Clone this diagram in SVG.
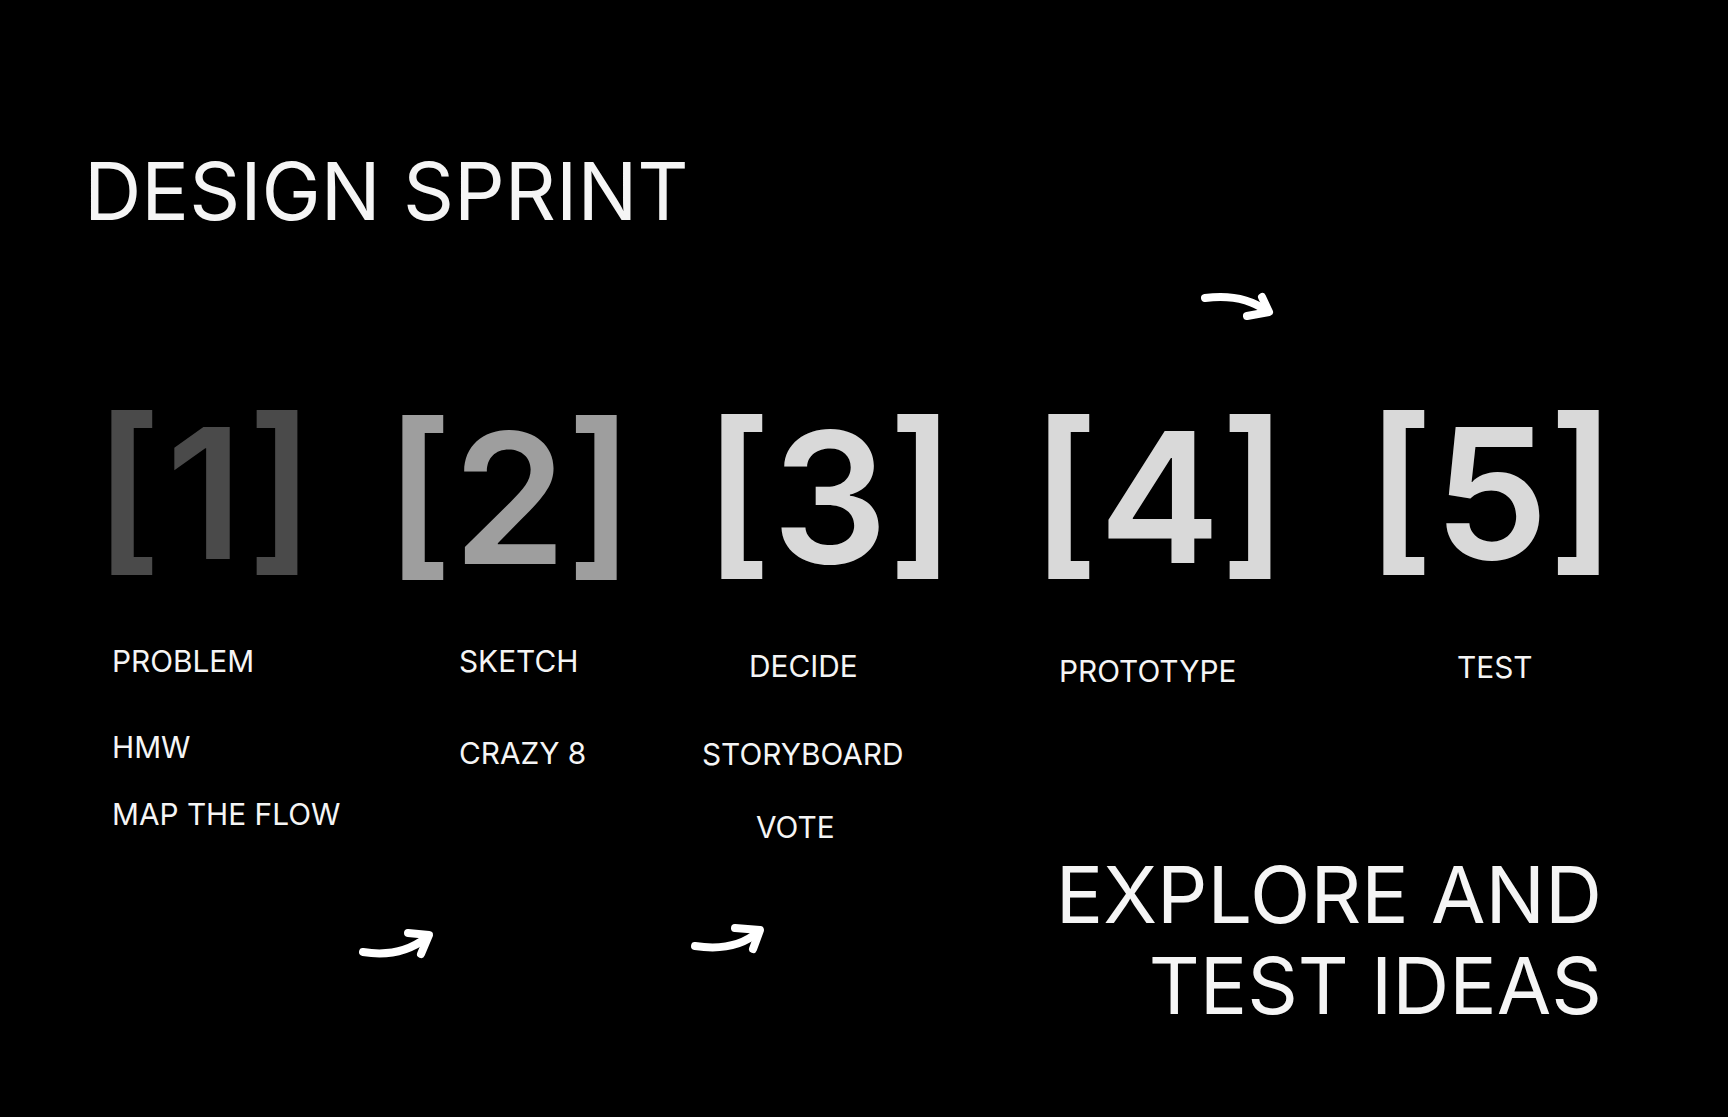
<svg xmlns="http://www.w3.org/2000/svg" width="1728" height="1117" viewBox="0 0 1728 1117">
<style>
.t{font-family:Inter,"Noto Sans","Liberation Sans",sans-serif;fill:#f5f5f5}
.big{font-family:Inter,"Noto Sans","Liberation Sans",sans-serif;font-size:182px;font-weight:600}
.lbl{font-size:29.8px}
.arr{fill:none;stroke:#ffffff;stroke-width:8;stroke-linecap:round;stroke-linejoin:round}
</style>
<rect width="1728" height="1117" fill="#000000"/>
<g id="title"><text class="t" x="84" y="220" font-size="79.5">DESIGN SPRINT</text></g>
<g id="phase1">
<text class="big" x="94" y="559" fill="#4a4a4a"><tspan>[</tspan><tspan dx="4">1</tspan><tspan dx="4">]</tspan></text>
<text class="t lbl" x="112" y="672">PROBLEM</text>
<text class="t lbl" x="112" y="758">HMW</text>
<text class="t lbl" x="112" y="825">MAP THE FLOW</text>
</g>
<g id="phase2">
<text class="big" x="385" y="564" fill="#9e9e9e">[2]</text>
<text class="t lbl" x="459" y="672">SKETCH</text>
<text class="t lbl" x="459" y="764">CRAZY 8</text>
</g>
<g id="phase3">
<text class="big" x="704" y="563" fill="#d9d9d9">[3]</text>
<text class="t lbl" x="749" y="677">DECIDE</text>
<text class="t lbl" x="702" y="765">STORYBOARD</text>
<text class="t lbl" x="756" y="838">VOTE</text>
</g>
<g id="phase4">
<text class="big" x="1031" y="563" fill="#d9d9d9">[4]</text>
<text class="t lbl" x="1059" y="682">PROTOTYPE</text>
</g>
<g id="phase5">
<text class="big" x="1366" y="559" fill="#d9d9d9">[5]</text>
<text class="t lbl" x="1457" y="678">TEST</text>
</g>
<g id="tagline">
<text class="t" x="1602" y="923" font-size="79" text-anchor="end">EXPLORE AND</text>
<text class="t" x="1602" y="1014" font-size="79" text-anchor="end">TEST IDEAS</text>
</g>
<g id="connectors">
<path class="arr" d="M1205,298 Q1242,293 1267,311"/>
<path class="arr" d="M1262,297 L1269,312 L1247,316"/>
<path class="arr" d="M363,952 Q400,958 426,938"/>
<path class="arr" d="M408,933 L429,935 L421,954"/>
<path class="arr" d="M695,946 Q735,952 758,932"/>
<path class="arr" d="M735,928 L760,930 L753,949"/>
</g>
</svg>
